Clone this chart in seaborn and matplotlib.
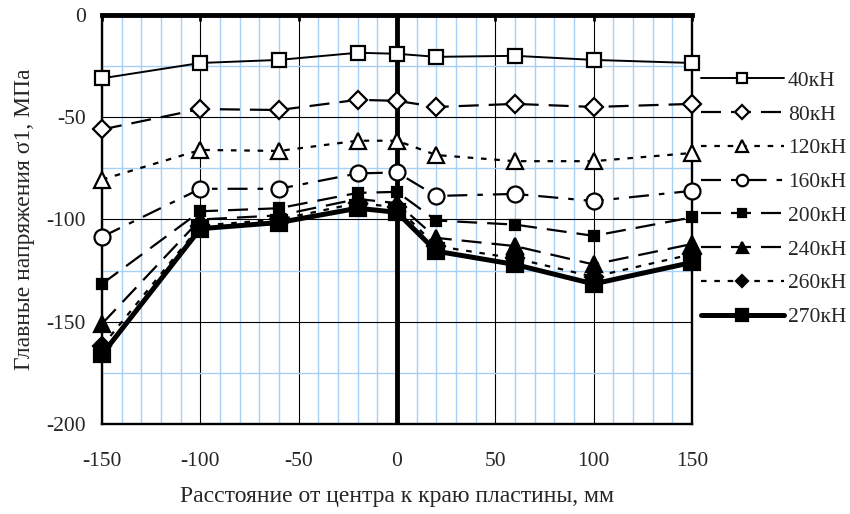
import numpy as np
import pandas as pd
import matplotlib
matplotlib.use("Agg")
import matplotlib.pyplot as plt
import seaborn as sns
from matplotlib.lines import Line2D
from matplotlib.ticker import MultipleLocator

x_mm = [-150, -100, -60, -20, 0, 20, 60, 100, 150]

s40 = [-31, -23.5, -22, -18.5, -19, -20.5, -20, -22, -23.5]
s80 = [-56, -46, -46.5, -41.5, -42, -45, -43.5, -45, -43.5]
s120 = [-80.5, -66, -66.5, -61.5, -61.5, -68.5, -71.5, -71.5, -67.5]
s160 = [-108.5, -85, -85, -77.5, -77, -88.5, -87.5, -91, -86]
s200 = [-131.5, -96, -94.5, -87, -86.5, -100.5, -102.5, -108, -99]
s240 = [-151, -100, -98, -90, -92, -109, -113, -122, -112]
s260 = [-162, -103, -100, -92, -94, -113, -119, -128, -117]
s270 = [-166, -104.5, -101.5, -94.5, -96.5, -115.5, -122, -131.5, -121]

labels = ["40кН", "80кН", "120кН", "160кН", "200кН", "240кН", "260кН", "270кН"]
series = [s40, s80, s120, s160, s200, s240, s260, s270]

styles = [
    dict(linestyle="-", lw=1.4, marker="s", ms=10.5, mfc="white"),
    dict(linestyle=(0, (9, 4.5)), lw=1.6, marker="D", ms=9.5, mfc="white"),
    dict(linestyle=(0, (2.5, 3.5)), lw=1.6, marker="^", ms=12, mfc="white"),
    dict(linestyle=(0, (9, 4.5, 2.5, 4.5)), lw=1.6, marker="o", ms=11.5, mfc="white"),
    dict(linestyle=(0, (9, 4.5)), lw=1.6, marker="s", ms=7.5, mfc="black"),
    dict(linestyle=(0, (9, 4.5)), lw=1.6, marker="^", ms=11, mfc="black"),
    dict(linestyle=(0, (2.5, 3.5)), lw=1.6, marker="D", ms=9, mfc="black"),
    dict(linestyle="-", lw=3.6, marker="s", ms=11.5, mfc="black"),
]

sns.set_theme(style="white")
plt.rcParams["font.family"] = ["Liberation Serif", "DejaVu Serif"]
plt.rcParams["axes.unicode_minus"] = False

fig = plt.figure(figsize=(8.5, 5.14), dpi=100)
ax = fig.add_axes([0.12, 0.175, 0.694, 0.796])

df = pd.DataFrame({"x": np.tile(x_mm, len(labels)),
                   "y": np.concatenate(series),
                   "load": np.repeat(labels, len(x_mm))})

handles = []
for lab, st in zip(labels, styles):
    sub = df[df["load"] == lab]
    sns.lineplot(data=sub, x="x", y="y", ax=ax, color="black",
                 linestyle=st["linestyle"], linewidth=st["lw"],
                 marker=st["marker"], markersize=st["ms"],
                 markerfacecolor=st["mfc"], markeredgecolor="black",
                 markeredgewidth=1.6, sort=False, zorder=5, legend=False,
                 clip_on=False)
    handles.append(Line2D([], [], color="black", linestyle=st["linestyle"],
                          linewidth=st["lw"], marker=st["marker"],
                          markersize=st["ms"] * 0.72, markerfacecolor=st["mfc"],
                          markeredgecolor="black", markeredgewidth=1.6))

ax.set_xlim(-150, 150)
ax.set_ylim(-200, 0)
ax.xaxis.set_major_locator(MultipleLocator(50))
ax.xaxis.set_minor_locator(MultipleLocator(10))
ax.yaxis.set_major_locator(MultipleLocator(50))
ax.yaxis.set_minor_locator(MultipleLocator(25))
ax.grid(which="minor", color="#a8d0f5", linewidth=1.0, zorder=0)
ax.grid(which="major", color="black", linewidth=0.8, zorder=1)
ax.set_axisbelow(True)

ax.axvline(0, color="black", linewidth=3.5, zorder=4)
for sp in ax.spines.values():
    sp.set_color("black")
    sp.set_linewidth(1.7)
ax.spines["top"].set_linewidth(3.5)

ax.tick_params(axis="x", which="major", bottom=False, top=True, labelbottom=True,
               labeltop=False, direction="in", length=4, width=2, color="black",
               labelsize=15.5, pad=20)
ax.tick_params(axis="y", which="major", left=False, labelsize=15.5, pad=5.5)
ax.tick_params(which="minor", bottom=False, top=False, left=False, right=False)

ax.set_xlabel("Расстояние от центра к краю пластины, мм", fontsize=17, labelpad=11)
ax.set_ylabel("Главные напряжения σ1, МПа", fontsize=17, labelpad=8)

leg = fig.legend(handles, labels, loc="upper left", bbox_to_anchor=(0.814, 0.879),
                 frameon=False, fontsize=15.5, handlelength=3.9, handletextpad=0.15,
                 labelspacing=0.635, numpoints=1, borderaxespad=0.0)

fig.savefig("out.png", dpi=100)
